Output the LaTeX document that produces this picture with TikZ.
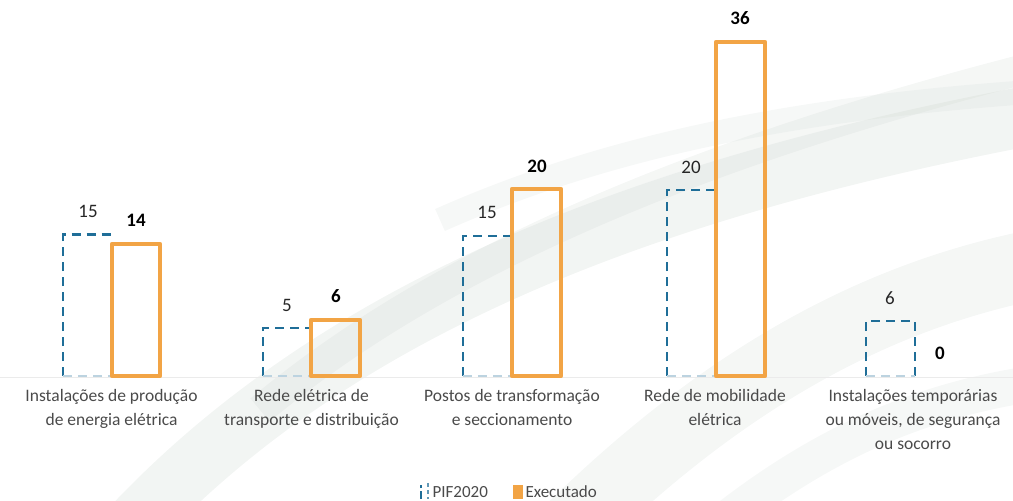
\documentclass[tikz,border=0pt]{standalone}
\usepackage{fontspec}
\setmainfont{Carlito}
\definecolor{pifblue}{HTML}{1F6E98}
\definecolor{exorange}{HTML}{F2A445}
\definecolor{labgray}{HTML}{4A4A4A}
\definecolor{swoosh}{HTML}{C5D0C9}
\begin{document}
\begin{tikzpicture}[x=1pt,y=-1pt,
  pif/.style={draw=pifblue, line width=2.6pt, dash pattern=on 9pt off 6pt},
  pifbase/.style={draw=pifblue!30, line width=1.5pt, dash pattern=on 9pt off 6pt},
  exe/.style={draw=exorange, line width=4.5pt, line join=round},
  pval/.style={font=\fontsize{19}{19}\selectfont, text=black!85},
  eval/.style={font=\bfseries\fontsize{19}{19}\selectfont, text=black},
  cat/.style={font=\fontsize{17.5}{24}\selectfont, text=labgray, align=center, anchor=north},
  leg/.style={font=\fontsize{17}{17}\selectfont, text=labgray, anchor=west},
  band/.style={draw=swoosh, line cap=butt}
]
\useasboundingbox (0,0) rectangle (1013,501);
% background swooshes
\draw[band, line width=60pt, opacity=0.22] (120,540) .. controls (320,320) and (620,190) .. (1060,110);
\draw[band, line width=30pt, opacity=0.18] (260,410) .. controls (440,260) and (700,150) .. (1060,60);
\draw[band, line width=70pt, opacity=0.18] (560,540) .. controls (720,380) and (880,290) .. (1060,260);
\draw[band, line width=36pt, opacity=0.15] (700,540) .. controls (820,440) and (930,395) .. (1060,380);
\draw[band, line width=24pt, opacity=0.15] (440,220) .. controls (620,140) and (820,105) .. (1060,90);
% baseline
\draw[draw=black!8, line width=1pt] (0,377) -- (1013,377);

% group 1
\coordinate (p1a) at (63,376); \coordinate (p1b) at (63,234.5); \coordinate (p1c) at (111,234.5); \coordinate (p1d) at (111,376);
\draw[pif] (p1a) -- (p1b) -- (p1c);
\draw[pifbase] (p1a) -- (p1d);
\draw[exe] (112,376) rectangle (160,244);
\node[pval] (v1a) at (88,211) {15};
\node[eval] (v1b) at (136,220) {14};
\node[cat] (c1) at (111.5,386) {Instalações de produção\\de energia elétrica};

% group 2
\coordinate (p2a) at (263,376); \coordinate (p2b) at (263,328); \coordinate (p2c) at (310,328); \coordinate (p2d) at (310,376);
\draw[pif] (p2a) -- (p2b) -- (p2c);
\draw[pifbase] (p2a) -- (p2d);
\draw[exe] (311,376) rectangle (360,320);
\node[pval] (v2a) at (287,305) {5};
\node[eval] (v2b) at (336,296) {6};
\node[cat] (c2) at (311.5,386) {Rede elétrica de\\transporte e distribuição};

% group 3
\coordinate (p3a) at (463,376); \coordinate (p3b) at (463,236); \coordinate (p3c) at (511,236); \coordinate (p3d) at (511,376);
\draw[pif] (p3a) -- (p3b) -- (p3c);
\draw[pifbase] (p3a) -- (p3d);
\draw[exe] (512,376) rectangle (561,189);
\node[pval] (v3a) at (487,212) {15};
\node[eval] (v3b) at (537,166) {20};
\node[cat] (c3) at (512,386) {Postos de transformação\\e seccionamento};

% group 4
\coordinate (p4a) at (667,376); \coordinate (p4b) at (667,190); \coordinate (p4c) at (714,190); \coordinate (p4d) at (714,376);
\draw[pif] (p4a) -- (p4b) -- (p4c);
\draw[pifbase] (p4a) -- (p4d);
\draw[exe] (716,376) rectangle (765,42);
\node[pval] (v4a) at (691,167) {20};
\node[eval] (v4b) at (740,18) {36};
\node[cat] (c4) at (715,386) {Rede de mobilidade\\elétrica};

% group 5
\coordinate (p5a) at (866,376); \coordinate (p5b) at (866,321); \coordinate (p5c) at (915,321); \coordinate (p5d) at (915,376);
\draw[pif] (p5a) -- (p5b) -- (p5c) -- (p5d);
\draw[pifbase] (p5a) -- (p5d);
\node[pval] (v5a) at (890,298) {6};
\node[eval] (v5b) at (940,353) {0};
\node[cat] (c5) at (913,386) {Instalações temporárias\\ou móveis, de segurança\\ou socorro};

% legend
\coordinate (lg1a) at (421,499); \coordinate (lg1b) at (421,485);
\draw[draw=pifblue, line width=2pt, dash pattern=on 8pt off 3pt] (lg1a) -- (lg1b);
\draw[draw=pifblue!70, line width=1.5pt, dash pattern=on 4pt off 3pt] (428,483) -- (428,499);
\node[leg] (l1) at (429,492) {PIF2020};
\node[fill=exorange, minimum width=10pt, minimum height=14pt, inner sep=0pt] (l2m) at (518,492) {};
\node[leg] (l2) at (522,492) {Executado};
\end{tikzpicture}
\end{document}
